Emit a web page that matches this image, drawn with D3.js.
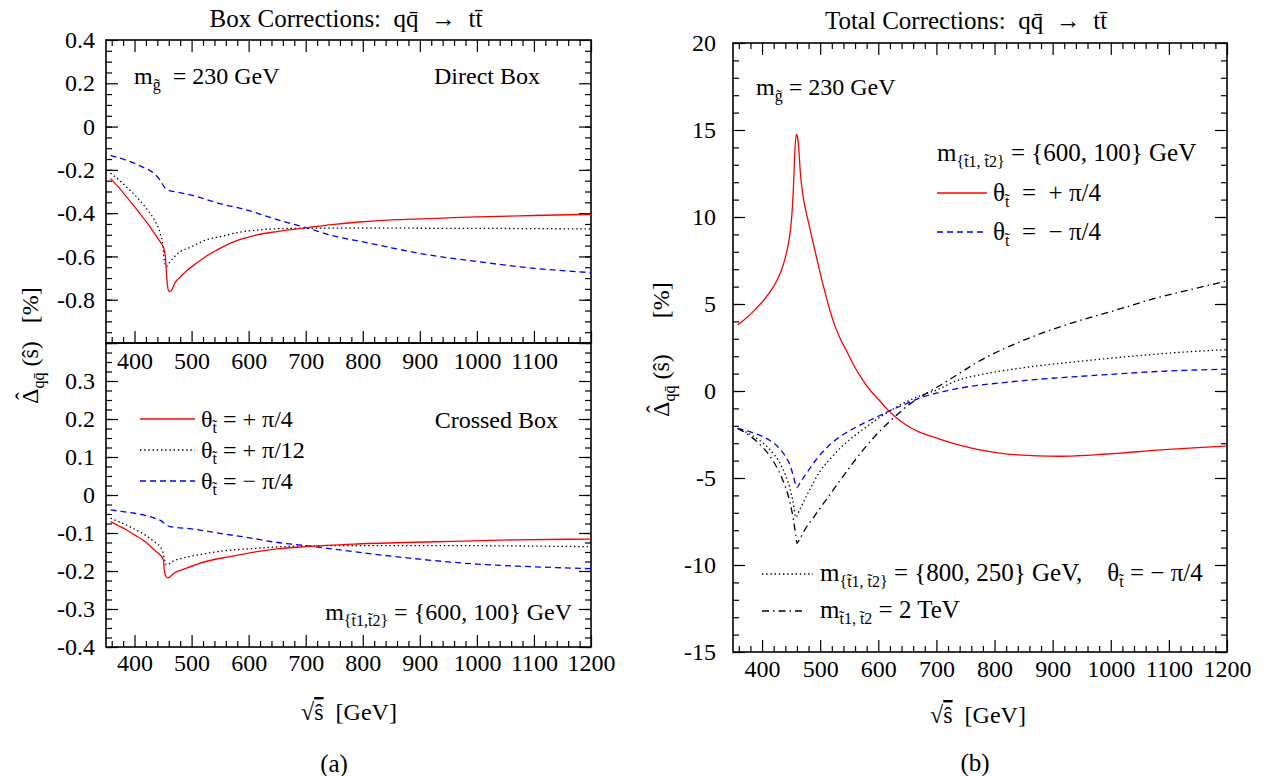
<!DOCTYPE html>
<html>
<head>
<meta charset="utf-8">
<script src="https://cdn.jsdelivr.net/npm/d3@7"></script>
<style>
  body { margin: 0; background: #fff; }
  text { font-family: "Liberation Serif", "Times New Roman", serif; fill: #000; white-space: pre; }
</style>
</head>
<body>
<script>
// ---- tick labels -------------------------------------------------------
const xTicks = [400, 500, 600, 700, 800, 900, 1000, 1100, 1200];
const xTicksUpper = [400, 500, 600, 700, 800, 900, 1000, 1100];
const directYTicks = [0.4, 0.2, 0, -0.2, -0.4, -0.6, -0.8];
const crossedYTicks = [0.3, 0.2, 0.1, 0, -0.1, -0.2, -0.3, -0.4];
const totalYTicks = [20, 15, 10, 5, 0, -5, -10, -15];

// ---- (a) direct box, [sqrt(s) GeV, Delta %] ------------------------------
const directPlus4 = [[358,-0.24],[372,-0.28],[386,-0.325],[400,-0.37],[414,-0.417],[425,-0.455],[435,-0.494],[445,-0.533],[451,-0.56],[454,-0.60],[456,-0.68],[458,-0.74],[460,-0.76],[462,-0.762],[466,-0.752],[470,-0.726],[480,-0.695],[490,-0.67],[508,-0.632],[525,-0.60],[545,-0.57],[567,-0.54],[590,-0.518],[615,-0.50],[650,-0.485],[699,-0.468],[750,-0.452],[789,-0.442],[858,-0.43],[930,-0.424],[1000,-0.417],[1100,-0.411],[1201,-0.405]];
const directPlus12 = [[358,-0.215],[372,-0.245],[386,-0.279],[400,-0.315],[414,-0.356],[425,-0.393],[435,-0.432],[445,-0.494],[450,-0.555],[452,-0.616],[455.6,-0.647],[462,-0.625],[476,-0.586],[500,-0.555],[525,-0.524],[550,-0.509],[580,-0.49],[615,-0.478],[650,-0.472],[699,-0.47],[789,-0.469],[928,-0.47],[1060,-0.471],[1201,-0.473]];
const directMinus4 = [[358,-0.133],[372,-0.144],[386,-0.156],[400,-0.17],[414,-0.187],[425,-0.2],[435,-0.218],[445,-0.248],[452,-0.279],[459,-0.294],[475,-0.303],[500,-0.317],[550,-0.356],[599,-0.387],[650,-0.43],[699,-0.466],[754,-0.509],[799,-0.532],[850,-0.56],[900,-0.586],[1001,-0.624],[1101,-0.655],[1201,-0.675]];

// ---- (a) crossed box --------------------------------------------------------
const crossedPlus4 = [[358,-0.070],[372,-0.081],[386,-0.092],[400,-0.105],[414,-0.118],[425,-0.131],[435,-0.145],[445,-0.158],[450.7,-0.171],[452,-0.197],[455.6,-0.215],[459,-0.218],[469,-0.206],[490,-0.193],[525,-0.175],[567,-0.162],[615,-0.149],[650,-0.142],[699,-0.136],[789,-0.129],[928,-0.123],[1067,-0.118],[1201,-0.116]];
const crossedPlus12 = [[358,-0.061],[372,-0.07],[386,-0.079],[400,-0.09],[414,-0.101],[425,-0.112],[435,-0.123],[448.6,-0.145],[452.8,-0.171],[455.6,-0.184],[469,-0.173],[497,-0.162],[546,-0.149],[615,-0.14],[699,-0.134],[789,-0.133],[928,-0.133],[1060,-0.134],[1201,-0.136]];
const crossedMinus4 = [[358,-0.039],[380,-0.044],[400,-0.048],[420,-0.054],[435,-0.061],[448.6,-0.07],[455.6,-0.079],[462.5,-0.083],[500,-0.089],[550,-0.101],[599,-0.112],[650,-0.125],[699,-0.133],[799,-0.152],[900,-0.169],[1001,-0.182],[1101,-0.189],[1201,-0.194]];

// ---- (b) total corrections -------------------------------------------------
const totalPlus4 = [[358,3.8],[375,4.25],[390,4.75],[405,5.3],[417,5.85],[427,6.45],[435,7.1],[441,7.8],[446,8.6],[449,9.3],[451,10.0],[454,11.7],[456.5,13.8],[459,14.75],[461,14.6],[463,14.0],[466,12.5],[471.5,11.0],[477,10.1],[482,9.4],[488,8.5],[495,7.5],[502,6.5],[509,5.6],[517,4.6],[526,3.7],[536,2.9],[547,2.2],[560,1.35],[574,0.6],[587,0.0],[601,-0.5],[614,-1.0],[628,-1.45],[648,-1.95],[670,-2.35],[700,-2.7],[738,-3.1],[770,-3.35],[806,-3.55],[840,-3.67],[874,-3.73],[910,-3.75],[942,-3.72],[980,-3.65],[1011,-3.58],[1060,-3.45],[1100,-3.35],[1150,-3.25],[1198,-3.17]];
const totalMinus4 = [[358,-2.15],[380,-2.35],[400,-2.6],[417,-2.92],[430,-3.3],[440,-3.75],[448,-4.25],[454,-4.9],[458,-5.4],[460,-5.55],[465,-5.3],[475,-4.8],[493,-3.95],[510,-3.3],[533,-2.65],[555,-2.2],[575,-1.85],[600,-1.45],[622,-1.1],[645,-0.78],[670,-0.42],[700,-0.12],[738,0.15],[770,0.32],[806,0.45],[874,0.67],[942,0.83],[1011,0.98],[1079,1.12],[1140,1.2],[1198,1.25]];
const totalHeavy = [[358,-2.15],[380,-2.5],[400,-2.95],[417,-3.5],[430,-4.1],[440,-4.8],[448,-5.6],[454,-6.5],[458,-7.25],[465,-6.8],[480,-5.8],[500,-4.6],[520,-3.8],[540,-3.1],[560,-2.55],[580,-2.05],[601,-1.55],[635,-0.85],[670,-0.3],[700,0.05],[738,0.63],[770,0.9],[806,1.12],[874,1.44],[942,1.69],[1011,1.92],[1079,2.12],[1140,2.27],[1198,2.37]];
const totalDecoupled = [[358,-2.15],[380,-2.6],[400,-3.2],[417,-3.9],[430,-4.7],[440,-5.5],[448,-6.4],[454,-7.4],[458,-8.3],[460,-8.75],[464,-8.55],[475,-7.9],[490,-7.2],[506,-6.45],[533,-5.2],[560,-3.98],[588,-2.83],[622,-1.67],[656,-0.71],[683,-0.13],[700,0.2],[738,0.98],[770,1.65],[806,2.27],[874,3.23],[942,4.0],[1011,4.67],[1079,5.35],[1140,5.85],[1198,6.31]];

// ---- line styles ------------------------------------------------------------
const styleRed = { stroke: "#ff0000", dash: null };
const styleDot = { stroke: "#000000", dash: "1.4,2.8" };
const styleBlue = { stroke: "#0000ff", dash: "6,4" };
const styleDashDot = { stroke: "#000000", dash: "7,4,1.5,4" };

const svg = d3.select("body").append("svg").attr("width", 1263).attr("height", 776);
const defs = svg.append("defs");

const TICK_FONT = 24, TEXT_FONT = 24, SUB_FONT = 16;
const MAJOR = 12, MINOR = 6;

// text with subscripts: parts are strings or {sub: "..."}
function rich(parent, parts, attrs, fontSize = TEXT_FONT) {
  const t = parent.append("text").attr("font-size", fontSize);
  Object.entries(attrs).forEach(([k, v]) => t.attr(k, v));
  let down = false;
  parts.forEach(p => {
    const isSub = typeof p !== "string";
    const ts = t.append("tspan").text(isSub ? p.sub : p);
    if (isSub && !down) ts.attr("dy", 6);
    if (!isSub && down) ts.attr("dy", -6);
    if (isSub) ts.attr("font-size", SUB_FONT);
    down = isSub;
  });
  return t;
}

function tickAxis(g, axisFn, scale, values, size, labels, padding, fmt) {
  const ax = axisFn(scale).tickValues(values).tickSizeInner(-size).tickSizeOuter(0)
    .tickPadding(padding || 0).tickFormat(labels ? fmt : () => "");
  g.call(ax);
  g.select(".domain").remove();
  g.selectAll(".tick line").attr("stroke", "#000").attr("stroke-width", 1.2);
  g.selectAll(".tick text").attr("font-size", TICK_FONT).attr("fill", "#000");
}

function minorRange(lo, hi, step) {
  const out = [];
  const n = Math.round((hi - lo) / step);
  for (let i = 0; i <= n; i++) out.push(+(lo + i * step).toFixed(6));
  return out;
}

const fmtY = d => (d === 0 ? "0" : (Math.abs(d) < 1 ? d.toFixed(1) : String(d)));
const fmtX = d => String(d);

function drawSeries(g, x, y, data, st, clipId) {
  const line = d3.line().x(d => x(d[0])).y(d => y(d[1])).curve(d3.curveMonotoneX);
  const p = g.append("path").datum(data).attr("d", line)
    .attr("fill", "none").attr("stroke", st.stroke).attr("stroke-width", 1.3)
    .attr("clip-path", `url(#${clipId})`);
  if (st.dash) p.attr("stroke-dasharray", st.dash);
}

function legendLine(g, x1, x2, yy, st) {
  const l = g.append("line").attr("x1", x1).attr("x2", x2).attr("y1", yy).attr("y2", yy)
    .attr("stroke", st.stroke).attr("stroke-width", 1.3);
  if (st.dash) l.attr("stroke-dasharray", st.dash);
}

// panel with inward ticks on all four sides
function panel(opts) {
  const { x0, x1, y0, y1, yDomain, yMajor, yMinorStep, yLabels, xLabels, xLabelPad, topTicks, clipId, yPad } = opts;
  const x = d3.scaleLinear().domain([350, 1200]).range([x0, x1]);
  const y = d3.scaleLinear().domain(yDomain).range([y1, y0]);
  const g = svg.append("g");
  defs.append("clipPath").attr("id", clipId).append("rect")
    .attr("x", x0).attr("y", y0).attr("width", x1 - x0).attr("height", y1 - y0);

  const xMinor = minorRange(360, 1200, 20).filter(v => v % 100 !== 0);
  const yMinor = minorRange(yDomain[0], yDomain[1], yMinorStep)
    .filter(v => !yMajor.some(m => Math.abs(m - v) < 1e-6));
  const yMajorAll = minorRange(yDomain[0], yDomain[1], yMajor[0] - yMajor[1]);

  // bottom
  tickAxis(g.append("g").attr("transform", `translate(0,${y1})`), d3.axisBottom, x, xMinor, MINOR);
  tickAxis(g.append("g").attr("transform", `translate(0,${y1})`), d3.axisBottom, x, xTicks, MAJOR);
  if (xLabels) {
    tickAxis(g.append("g").attr("transform", `translate(0,${y1})`), d3.axisBottom, x, xLabels, 0, true, xLabelPad, fmtX);
  }
  // top
  if (topTicks) {
    tickAxis(g.append("g").attr("transform", `translate(0,${y0})`), d3.axisTop, x, xMinor, MINOR);
    tickAxis(g.append("g").attr("transform", `translate(0,${y0})`), d3.axisTop, x, xTicks, MAJOR);
  }
  // left and right
  tickAxis(g.append("g").attr("transform", `translate(${x0},0)`), d3.axisLeft, y, yMinor, MINOR);
  tickAxis(g.append("g").attr("transform", `translate(${x0},0)`), d3.axisLeft, y, yMajorAll, MAJOR);
  tickAxis(g.append("g").attr("transform", `translate(${x0},0)`), d3.axisLeft, y, yLabels, 0, true, yPad, fmtY);
  tickAxis(g.append("g").attr("transform", `translate(${x1},0)`), d3.axisRight, y, yMinor, MINOR);
  tickAxis(g.append("g").attr("transform", `translate(${x1},0)`), d3.axisRight, y, yMajorAll, MAJOR);

  g.append("rect").attr("x", x0).attr("y", y0).attr("width", x1 - x0).attr("height", y1 - y0)
    .attr("fill", "none").attr("stroke", "#000").attr("stroke-width", 1.6);
  return { g, x, y };
}

// ================= (a) Box corrections =================
const L = { x0: 106, x1: 591, top: 40, mid: 343, bottom: 647 };

const direct = panel({ x0: L.x0, x1: L.x1, y0: L.top, y1: L.mid, yDomain: [-1.0, 0.4],
  yMajor: [0.4, 0.2], yMinorStep: 0.05, yLabels: directYTicks, xLabels: xTicksUpper, xLabelPad: 9,
  topTicks: true, clipId: "clipDirect", yPad: 11 });
const crossed = panel({ x0: L.x0, x1: L.x1, y0: L.mid, y1: L.bottom, yDomain: [-0.4, 0.4],
  yMajor: [0.4, 0.3], yMinorStep: 0.025, yLabels: crossedYTicks, xLabels: xTicks, xLabelPad: 7,
  topTicks: false, clipId: "clipCrossed", yPad: 11 });

drawSeries(direct.g, direct.x, direct.y, directMinus4, styleBlue, "clipDirect");
drawSeries(direct.g, direct.x, direct.y, directPlus12, styleDot, "clipDirect");
drawSeries(direct.g, direct.x, direct.y, directPlus4, styleRed, "clipDirect");
drawSeries(crossed.g, crossed.x, crossed.y, crossedMinus4, styleBlue, "clipCrossed");
drawSeries(crossed.g, crossed.x, crossed.y, crossedPlus12, styleDot, "clipCrossed");
drawSeries(crossed.g, crossed.x, crossed.y, crossedPlus4, styleRed, "clipCrossed");

rich(svg, ["Box Corrections:  qq\u0304  \u2192  tt\u0304"], { x: 346, y: 27, "text-anchor": "middle" }, 25);
rich(svg, ["m", { sub: "g\u0303" }, "  = 230 GeV"], { x: 134, y: 84 });
rich(svg, ["Direct Box"], { x: 540, y: 84, "text-anchor": "end" });
rich(svg, ["Crossed Box"], { x: 558, y: 428, "text-anchor": "end" });
rich(svg, ["m", { sub: "{t\u03031,t\u03032}" }, " = {600, 100} GeV"], { x: 572, y: 620, "text-anchor": "end" });

const legA = [
  { st: styleRed, parts: ["\u03b8", { sub: "t\u0303" }, " = + \u03c0/4"], y: 419 },
  { st: styleDot, parts: ["\u03b8", { sub: "t\u0303" }, " = + \u03c0/12"], y: 450 },
  { st: styleBlue, parts: ["\u03b8", { sub: "t\u0303" }, " = \u2212 \u03c0/4"], y: 481 }
];
legA.forEach(d => {
  legendLine(svg, 140, 195, d.y, d.st);
  rich(svg, d.parts, { x: 201, y: d.y + 8 });
});

// axis titles: hat drawn as a raised circumflex over the Delta
function yTitle(xBase, yStart, gap) {
  const t = svg.append("text").attr("font-size", TEXT_FONT)
    .attr("transform", `translate(${xBase},${yStart}) rotate(-90)`);
  t.append("tspan").text("\u0394");
  t.append("tspan").text("\u02c6").attr("dx", -11.5).attr("dy", -6);
  t.append("tspan").text("qq\u0304").attr("font-size", SUB_FONT).attr("dx", 3.5).attr("dy", 12);
  t.append("tspan").text(" (\u015d)" + gap + "[%]").attr("dy", -6);
}
yTitle(38, 404, "   ");

function xTitle(cx, yy) {
  const t = svg.append("text").attr("font-size", TEXT_FONT).attr("x", cx).attr("y", yy)
    .attr("text-anchor", "middle");
  t.append("tspan").text("\u221a");
  t.append("tspan").text("\u015d").attr("text-decoration", "overline");
  t.append("tspan").text("  [GeV]");
}
xTitle(349, 720);
svg.append("text").attr("x", 334).attr("y", 772).attr("text-anchor", "middle")
  .attr("font-size", 25).text("(a)");

// ================= (b) Total corrections =================
const total = panel({ x0: 733, x1: 1227, y0: 43, y1: 652, yDomain: [-15, 20],
  yMajor: [20, 15], yMinorStep: 1, yLabels: totalYTicks, xLabels: xTicks, xLabelPad: 8,
  topTicks: true, clipId: "clipTotal", yPad: 17 });

drawSeries(total.g, total.x, total.y, totalDecoupled, styleDashDot, "clipTotal");
drawSeries(total.g, total.x, total.y, totalHeavy, styleDot, "clipTotal");
drawSeries(total.g, total.x, total.y, totalMinus4, styleBlue, "clipTotal");
drawSeries(total.g, total.x, total.y, totalPlus4, styleRed, "clipTotal");

rich(svg, ["Total Corrections:  qq\u0304  \u2192  tt\u0304"], { x: 966, y: 29, "text-anchor": "middle" }, 25);
rich(svg, ["m", { sub: "g\u0303" }, " = 230 GeV"], { x: 756, y: 95 });
rich(svg, ["m", { sub: "{t\u03031, t\u03032}" }, " = {600, 100} GeV"], { x: 937, y: 161 }, 25);

legendLine(svg, 937, 987, 193, styleRed);
rich(svg, ["\u03b8", { sub: "t\u0303" }, "  =  + \u03c0/4"], { x: 993, y: 201 }, 25);
legendLine(svg, 937, 987, 232, styleBlue);
rich(svg, ["\u03b8", { sub: "t\u0303" }, "  =  \u2212 \u03c0/4"], { x: 993, y: 240 }, 25);

legendLine(svg, 762, 813, 574, styleDot);
rich(svg, ["m", { sub: "{t\u03031, t\u03032}" }, " = {800, 250} GeV,    \u03b8", { sub: "t\u0303" }, " = \u2212 \u03c0/4"], { x: 820, y: 581 }, 25);
legendLine(svg, 762, 806, 611, styleDashDot);
rich(svg, ["m", { sub: "t\u03031, t\u03032" }, " = 2 TeV"], { x: 820, y: 618 }, 25);

yTitle(669, 417, "      ");
xTitle(978, 723);
svg.append("text").attr("x", 975).attr("y", 771).attr("text-anchor", "middle")
  .attr("font-size", 25).text("(b)");
</script>
</body>
</html>
